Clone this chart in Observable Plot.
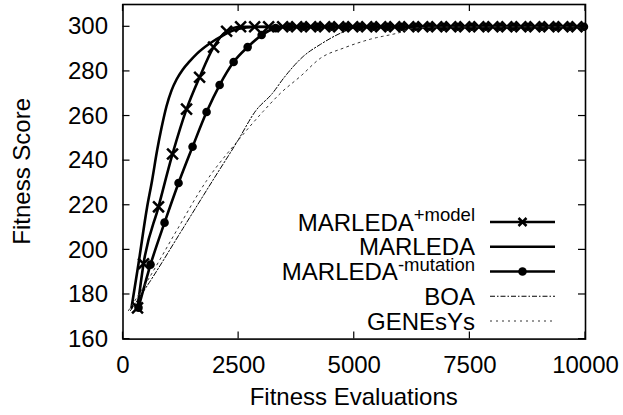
<!DOCTYPE html>
<html><head><meta charset="utf-8">
<script src="https://cdn.jsdelivr.net/npm/d3@7"></script>
<script src="https://cdn.jsdelivr.net/npm/@observablehq/plot@0.6"></script>
<style>
body{margin:0;background:#fff}
svg{font-family:"Liberation Sans",Arial,Helvetica,sans-serif}
</style>
</head><body><div id="chart"></div>
<script>
// ---- data ----
const xTicks = [0, 2500, 5000, 7500, 10000];
const yTicks = [160, 180, 200, 220, 240, 260, 280, 300];

const modelEvals = [314, 444, 768, 1071, 1374, 1656, 1959, 2240, 2543, 2846, 3149, 3452, 3755, 4058, 4361, 4664, 4967, 5270, 5573, 5876, 6179, 6482, 6785, 7088, 7391, 7694, 7997, 8300, 8603, 8906, 9209, 9512, 9815];
const modelFitness = [174, 193.8, 219.3, 243, 263.1, 277.4, 290.9, 298, 300, 300, 300, 300, 300, 300, 300, 300, 300, 300, 300, 300, 300, 300, 300, 300, 300, 300, 300, 300, 300, 300, 300, 300, 300];

const marledaEvals = [184, 335, 519, 628, 736, 833, 942, 1050, 1160, 1290, 1440, 1600, 1851, 2175, 2478, 2868, 10000];
const marledaFitness = [174.1, 193.8, 218.9, 231, 244.4, 254.7, 264.5, 271.5, 276.5, 280.8, 284.5, 288, 292.2, 296.3, 299, 299.9, 300];

const mutationEvals = [335, 595, 898, 1201, 1504, 1807, 2089, 2392, 2695, 2998, 3300, 3603, 3906, 4209, 4512, 4815, 5118, 5421, 5724, 6027, 6330, 6633, 6936, 7239, 7542, 7845, 8148, 8451, 8754, 9057, 9360, 9663, 9966];
const mutationFitness = [174.1, 193.4, 212.2, 230, 246.2, 261.8, 273.9, 284.2, 290.9, 296.3, 299.4, 300, 300, 300, 300, 300, 300, 300, 300, 300, 300, 300, 300, 300, 300, 300, 300, 300, 300, 300, 300, 300, 300];

const boaEvals = [162, 595, 1266, 1937, 2478, 2868, 3236, 3474, 3907, 4275, 4708, 4924, 5249, 10000];
const boaFitness = [172.8, 186.2, 208.6, 231, 248.8, 262.3, 270.3, 277, 286.9, 292.2, 297.2, 299, 299.9, 300];

const genesysEvals = [119, 530, 1158, 1807, 2478, 3041, 3409, 3842, 4275, 4773, 5357, 5942, 6331, 6872, 10000];
const genesysFitness = [172.8, 186.2, 208.6, 231, 248.8, 262.3, 270.3, 277.9, 286, 290.5, 294.5, 297.2, 299.5, 299.9, 300];

const legendBase = ["MARLEDA", "MARLEDA", "MARLEDA", "BOA", "GENEsYs"];
const legendSup = ["+model", "", "-mutation", "", ""];

// ---- build tables ----
const toRows = (xs, ys) => xs.map((x, i) => ({x, y: ys[i]}));
const model = toRows(modelEvals, modelFitness);
const marleda = toRows(marledaEvals, marledaFitness);
const mutation = toRows(mutationEvals, mutationFitness);
const boa = toRows(boaEvals, boaFitness);
const genesys = toRows(genesysEvals, genesysFitness);

// ---- styles ----
const thick = 2.6;
const styles = [
  {stroke: "#000", strokeWidth: thick, marker: "times"},
  {stroke: "#000", strokeWidth: thick, marker: null},
  {stroke: "#000", strokeWidth: thick, marker: "circle"},
  {stroke: "#000", strokeWidth: 1, dash: "5,2,1.5,2", marker: null},
  {stroke: "#333", strokeWidth: 1, dash: "2,4", marker: null}
];
const curve = "monotone-x";

const plot = Plot.plot({
  width: 623,
  height: 415,
  marginLeft: 122.5,
  marginRight: 38,
  marginTop: 4,
  marginBottom: 76.4,
  style: {fontSize: "24px", fontFamily: "'Liberation Sans', Arial, Helvetica, sans-serif", color: "#000", background: "#fff"},
  x: {domain: [0, 10000], label: null},
  y: {domain: [160, 310], label: null},
  marks: [
    Plot.axisX({ticks: xTicks, tickSize: 0, tickPadding: 16.5, tickFormat: d => String(d), label: null}),
    Plot.axisY({ticks: yTicks, tickSize: 0, tickPadding: 15, tickFormat: d => String(d), label: null}),
    Plot.line(model, {x: "x", y: "y", stroke: "#000", strokeWidth: thick, curve}),
    Plot.dot(model, {x: "x", y: "y", symbol: "times", r: 5, stroke: "#000", strokeWidth: 2.5}),
    Plot.line(marleda, {x: "x", y: "y", stroke: "#000", strokeWidth: thick, curve}),
    Plot.line(mutation, {x: "x", y: "y", stroke: "#000", strokeWidth: thick, curve}),
    Plot.dot(mutation, {x: "x", y: "y", r: 4.3, fill: "#000", stroke: "none"}),
    Plot.line(boa, {x: "x", y: "y", stroke: "#000", strokeWidth: 1, strokeDasharray: "5,2,1.5,2", curve}),
    Plot.line(genesys, {x: "x", y: "y", stroke: "#333", strokeWidth: 1, strokeDasharray: "2,4", curve}),
    Plot.frame({stroke: "#000", strokeWidth: 1.6})
  ]
});

document.getElementById("chart").appendChild(plot);

// ---- inward ticks, titles, legend ----
const sx = plot.scale("x"), sy = plot.scale("y");
const [L, R] = sx.range;
const [B, T] = sy.range;
const svg = d3.select(plot);
const g = svg.append("g");
const tl = 7;
xTicks.forEach(v => {
  const px = sx.apply(v);
  g.append("line").attr("x1", px).attr("x2", px).attr("y1", B).attr("y2", B - tl).attr("stroke", "#000").attr("stroke-width", 1.2);
  g.append("line").attr("x1", px).attr("x2", px).attr("y1", T).attr("y2", T + tl).attr("stroke", "#000").attr("stroke-width", 1.2);
});
yTicks.forEach(v => {
  const py = sy.apply(v);
  g.append("line").attr("x1", L).attr("x2", L + tl).attr("y1", py).attr("y2", py).attr("stroke", "#000").attr("stroke-width", 1.2);
  g.append("line").attr("x1", R).attr("x2", R - tl).attr("y1", py).attr("y2", py).attr("stroke", "#000").attr("stroke-width", 1.2);
});

g.append("text").attr("x", (L + R) / 2).attr("y", 405).attr("text-anchor", "middle")
  .attr("font-size", 24).attr("fill", "#000").text("Fitness Evaluations");
g.append("text").attr("transform", `translate(22,${(T + B) / 2}) rotate(-90)`).attr("text-anchor", "middle")
  .attr("dy", "0.35em").attr("font-size", 24).attr("fill", "#000").text("Fitness Score");

const textRight = R - 110, lx1 = R - 95, lx2 = R - 30, lmid = (lx1 + lx2) / 2;
const rowTop = T + 218, rowStep = 24.75;
legendBase.forEach((name, i) => {
  const y = rowTop + i * rowStep;
  const st = styles[i];
  const t = g.append("text").attr("x", textRight).attr("y", y + 8.5).attr("text-anchor", "end")
    .attr("font-size", 24).attr("fill", "#000");
  t.append("tspan").text(name);
  if (legendSup[i]) t.append("tspan").attr("dy", -9.5).attr("font-size", 18.5).text(legendSup[i]);
  const ln = g.append("line").attr("x1", lx1).attr("x2", lx2).attr("y1", y).attr("y2", y)
    .attr("stroke", st.stroke).attr("stroke-width", st.strokeWidth);
  if (st.dash) ln.attr("stroke-dasharray", st.dash);
  if (st.marker === "circle") {
    g.append("circle").attr("cx", lmid).attr("cy", y).attr("r", 4.3).attr("fill", "#000");
  } else if (st.marker === "times") {
    const s = 4;
    g.append("path").attr("d", `M${lmid - s},${y - s}L${lmid + s},${y + s}M${lmid - s},${y + s}L${lmid + s},${y - s}`)
      .attr("stroke", "#000").attr("stroke-width", 2.5);
  }
});
</script>
</body></html>
